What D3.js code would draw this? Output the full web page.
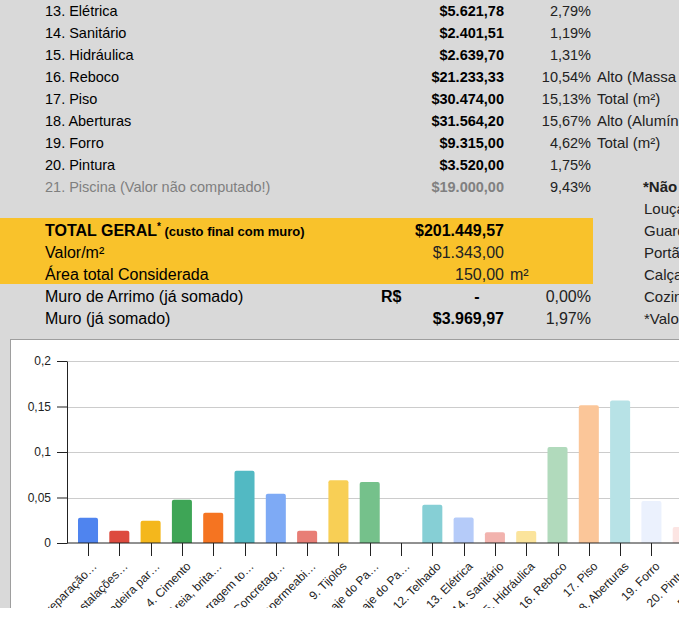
<!DOCTYPE html>
<html>
<head>
<meta charset="utf-8">
<script src="https://cdn.jsdelivr.net/npm/d3@7"></script>
<style>
  html, body { margin: 0; padding: 0; background: #fff; overflow: hidden; }
  svg { display: block; font-family: Arial, "Liberation Sans", sans-serif; }
</style>
</head>
<body>
<svg id="sheet" width="679" height="619"></svg>
<script>
// ---- dados da planilha ----
const categories = [
  "1. Preparação…", "2. Instalações…", "3. Madeira par…", "4. Cimento",
  "5. Areia, brita…", "6. Ferragem to…", "7. Concretag…", "8. Impermeabi…",
  "9. Tijolos", "10. Laje do Pa…", "11. Laje do Pa…", "12. Telhado",
  "13. Elétrica", "14. Sanitário", "15. Hidráulica", "16. Reboco",
  "17. Piso", "18. Aberturas", "19. Forro", "20. Pintura", "21. Piscina (…"
];
const shares = [
  0.0278, 0.0135, 0.0245, 0.0475, 0.0333, 0.0793, 0.0540, 0.0135,
  0.0690, 0.0670, 0.0000, 0.0420, 0.0279, 0.0119, 0.0131, 0.1054,
  0.1513, 0.1567, 0.0462, 0.0175, 0.0943
];
const barColors = [
  "#4f84ef", "#dd4a3e", "#f4b71c", "#3ea556", "#f57421", "#52b9c3",
  "#7eaaf5", "#e87e76", "#f8cf55", "#75c18b", "#ff994d", "#86cfd5",
  "#b5cbf9", "#f2b3ae", "#fbe49c", "#b1dabc", "#fbc699", "#b7e2e6",
  "#ebf1fd", "#fce5e3", "#fef6e0"
];
const yTicks = [0, 0.05, 0.1, 0.15, 0.2];

const itemNames = [
  "13. Elétrica", "14. Sanitário", "15. Hidráulica", "16. Reboco", "17. Piso",
  "18. Aberturas", "19. Forro", "20. Pintura", "21. Piscina (Valor não computado!)"
];
const itemCosts = [5621.78, 2401.51, 2639.70, 21233.33, 30474.00, 31564.20, 9315.00, 3520.00, 19000.00];
const itemNotes = ["", "", "", "Alto (Massa corrida)", "Total (m²)", "Alto (Alumínio)", "Total (m²)", "", ""];
const sideNotes = ["*Não computado", "Louças", "Guarda-corpo", "Portão", "Calçada", "Cozinha", "*Valores"];
const summaryLabels = ["TOTAL GERAL", "Valor/m²", "Área total Considerada", "Muro de Arrimo (já somado)", "Muro (já somado)"];
const summaryValues = [201449.57, 1343.00, 150.00, 0, 3969.97];
const summaryShares = [null, null, null, 0, 0.0197];

// ---- formatos pt-BR ----
const br = d3.formatLocale({ decimal: ",", thousands: ".", grouping: [3], currency: ["$", ""] });
const money = br.format("$,.2f");
const num = br.format(",.2f");
const pct = br.format(".2%");
const tickFmt = br.format("~g");

const svg = d3.select("#sheet");
const W = 679;
const rowTop = i => 22 * i - 1;

// ---- fundo da planilha ----
svg.append("rect").attr("x", 0).attr("y", 0).attr("width", W).attr("height", 339).attr("fill", "#d9d9d9");
svg.append("rect").attr("x", 0).attr("y", 339).attr("width", 10).attr("height", 269).attr("fill", "#d9d9d9");
svg.append("rect").attr("x", 0).attr("y", 218).attr("width", 593).attr("height", 66).attr("fill", "#f9c22b");

const table = svg.append("g");

function cell(x, y, text, opts = {}) {
  return table.append("text")
    .attr("x", x).attr("y", y)
    .attr("text-anchor", opts.anchor || "start")
    .attr("font-size", opts.size || 14.5)
    .attr("font-weight", opts.bold ? "bold" : "normal")
    .attr("fill", opts.color || "#000")
    .text(text);
}

itemNames.forEach((name, i) => {
  const y = rowTop(i) + 17;
  const grey = i === itemNames.length - 1;
  cell(45, y, name, { color: grey ? "#7f7f7f" : "#000" });
  cell(504, y, money(itemCosts[i]), { anchor: "end", bold: true, color: grey ? "#808080" : "#000" });
  cell(591, y, pct(shares[12 + i]), { anchor: "end", color: "#222" });
  if (itemNotes[i]) cell(597, y, itemNotes[i], { size: 15, color: "#222" });
});

sideNotes.forEach((t, i) => {
  cell(i === 0 ? 643 : 644, rowTop(8 + i) + 17, t, { size: 15, bold: i === 0, color: "#222" });
});

// linhas de resumo
summaryLabels.forEach((label, i) => {
  const y = rowTop(10 + i) + 17;
  if (i === 0) {
    const t = cell(45, y, label, { size: 16, bold: true });
    t.append("tspan").attr("font-size", 10).attr("dy", -6).text("*");
    t.append("tspan").attr("font-size", 13).attr("dy", 6).text(" (custo final com muro)");
    cell(504, y, money(summaryValues[i]), { anchor: "end", size: 16, bold: true });
  } else if (i === 1) {
    cell(45, y, label, { size: 16 });
    cell(504, y, money(summaryValues[i]), { anchor: "end", size: 16, color: "#222" });
  } else if (i === 2) {
    cell(45, y, label, { size: 16 });
    cell(504, y, num(summaryValues[i]), { anchor: "end", size: 16, color: "#222" });
    cell(510, y, "m²", { size: 16, color: "#222" });
  } else if (i === 3) {
    cell(45, y, label, { size: 16 });
    cell(381, y, "R$", { size: 16, bold: true });
    cell(477, y, "-", { anchor: "middle", size: 16, bold: true });
    cell(591, y, pct(summaryShares[i]), { anchor: "end", size: 16, color: "#222" });
  } else {
    cell(45, y, label, { size: 16 });
    cell(504, y, money(summaryValues[i]), { anchor: "end", size: 16, bold: true });
    cell(591, y, pct(summaryShares[i]), { anchor: "end", size: 16, color: "#222" });
  }
});

// ---- gráfico ----
svg.append("defs").append("clipPath").attr("id", "chartClip")
  .append("rect").attr("x", 11).attr("y", 340).attr("width", W - 11).attr("height", 268);

svg.append("rect").attr("x", 11).attr("y", 340).attr("width", W - 11).attr("height", 268).attr("fill", "#fff");
svg.append("line").attr("x1", 10.5).attr("x2", 10.5).attr("y1", 339).attr("y2", 608).attr("stroke", "#9e9e9e");
svg.append("line").attr("x1", 10).attr("x2", W).attr("y1", 339.5).attr("y2", 339.5).attr("stroke", "#9e9e9e");

const chart = svg.append("g").attr("clip-path", "url(#chartClip)");

const left = 67, step = 31.3, padIn = 0.36, padOut = 0.3514;
const x = d3.scaleBand()
  .domain(categories)
  .range([left, left + step * (categories.length - padIn + 2 * padOut)])
  .paddingInner(padIn)
  .paddingOuter(padOut);
const y = d3.scaleLinear().domain([0, 0.2]).range([543, 361]);
const right = W + 40;

// grade
chart.append("g").selectAll("line")
  .data(yTicks.filter(d => d > 0))
  .join("line")
  .attr("x1", left).attr("x2", right)
  .attr("y1", d => Math.round(y(d)) + 0.5).attr("y2", d => Math.round(y(d)) + 0.5)
  .attr("stroke", "#cccccc");

// barras
chart.append("g").selectAll("path")
  .data(categories.map((c, i) => ({ c, v: shares[i], color: barColors[i] })))
  .join("path")
  .attr("fill", d => d.color)
  .attr("d", d => {
    const x0 = x(d.c), w = x.bandwidth(), y0 = y(0), y1 = y(d.v);
    if (y0 - y1 < 0.5) return "";
    const r = Math.min(2, (y0 - y1) / 2);
    return `M${x0},${y0}V${y1 + r}Q${x0},${y1} ${x0 + r},${y1}H${x0 + w - r}Q${x0 + w},${y1} ${x0 + w},${y1 + r}V${y0}Z`;
  });

// eixo y
const yAxis = chart.append("g")
  .attr("transform", `translate(${left},0)`)
  .call(d3.axisLeft(y).tickValues(yTicks).tickFormat(tickFmt).tickSize(10).tickSizeOuter(0).tickPadding(6));
yAxis.select(".domain").attr("stroke", "#222");
yAxis.selectAll(".tick line").attr("stroke", "#222");
yAxis.selectAll(".tick text").attr("font-size", 12).attr("fill", "#222")
  .attr("font-family", "Arial, 'Liberation Sans', sans-serif");

// linha de base
chart.append("line")
  .attr("x1", left).attr("x2", right)
  .attr("y1", y(0)).attr("y2", y(0))
  .attr("stroke", "#222");

// eixo x com rótulos inclinados
const xTicks = chart.append("g").selectAll("g")
  .data(categories)
  .join("g")
  .attr("transform", d => `translate(${Math.round(x(d) + x.bandwidth() / 2) + 0.5},0)`);
xTicks.append("line").attr("y1", y(0)).attr("y2", 556).attr("stroke", "#222");
xTicks.append("text")
  .attr("transform", "translate(3,561) rotate(-45)")
  .attr("text-anchor", "end")
  .attr("dy", "0.71em")
  .attr("font-size", 12)
  .attr("fill", "#222")
  .text(d => d);
</script>
</body>
</html>
